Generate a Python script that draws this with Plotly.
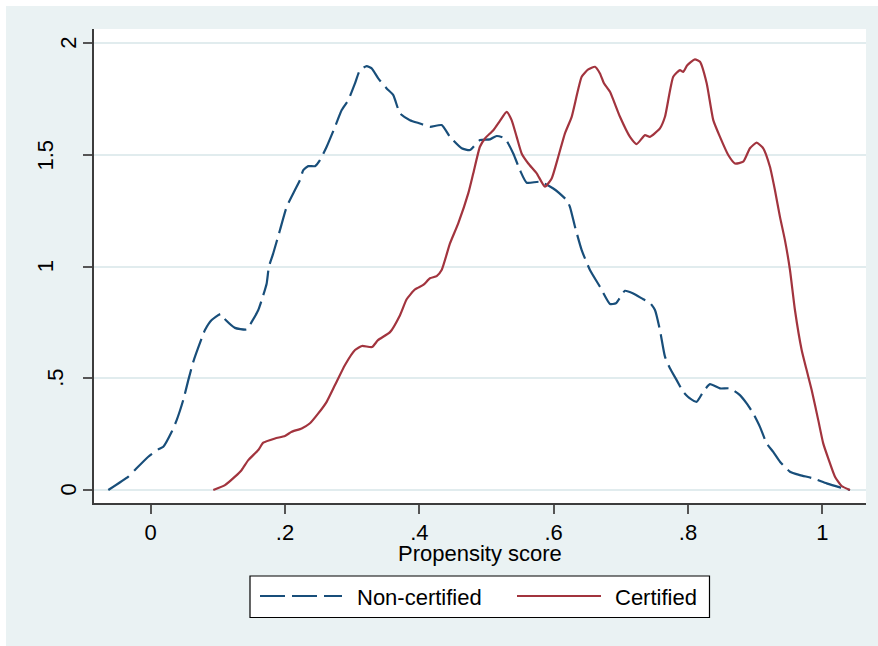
import plotly.graph_objects as go

# Kernel density estimates of the propensity score by certification status
noncert_x = [-0.0631, -0.0333, -0.0234, -0.0036, 0.0113, 0.0188, 0.0313, 0.0387, 0.0485, 0.0560,
             0.0634, 0.0759, 0.0808, 0.0908, 0.1042, 0.1117, 0.1255, 0.1429, 0.1504, 0.1602,
             0.1653, 0.1727, 0.1760, 0.1825, 0.1925, 0.2025, 0.2148, 0.2223, 0.2272, 0.2346,
             0.2446, 0.2520, 0.2620, 0.2744, 0.2844, 0.2942, 0.3042, 0.3116, 0.3216, 0.3290,
             0.3388, 0.3513, 0.3612, 0.3712, 0.3860, 0.4009, 0.4158, 0.4332, 0.4456, 0.4630,
             0.4754, 0.4903, 0.5051, 0.5151, 0.5275, 0.5398, 0.5498, 0.5598, 0.5796, 0.5994,
             0.6193, 0.6242, 0.6317, 0.6417, 0.6540, 0.6689, 0.6838, 0.6927, 0.7061, 0.7185,
             0.7334, 0.7433, 0.7508, 0.7582, 0.7657, 0.7731, 0.7831, 0.7929, 0.8029, 0.8129,
             0.8227, 0.8327, 0.8476, 0.8624, 0.8773, 0.8873, 0.8971, 0.9071, 0.9171, 0.9269,
             0.9369, 0.9518, 0.9667, 0.9865, 1.0064, 1.0262, 1.0411]
noncert_y = [0.000, 0.060, 0.090, 0.149, 0.182, 0.194, 0.261, 0.313, 0.403, 0.492,
             0.574, 0.679, 0.716, 0.761, 0.788, 0.761, 0.726, 0.719, 0.753, 0.806,
             0.850, 0.925, 1.000, 1.060, 1.164, 1.268, 1.343, 1.388, 1.432, 1.450,
             1.450, 1.477, 1.537, 1.626, 1.701, 1.746, 1.821, 1.880, 1.898, 1.888,
             1.843, 1.798, 1.768, 1.686, 1.656, 1.641, 1.626, 1.634, 1.581, 1.530,
             1.522, 1.567, 1.570, 1.585, 1.574, 1.507, 1.432, 1.376, 1.380, 1.350,
             1.298, 1.268, 1.179, 1.074, 0.985, 0.910, 0.833, 0.836, 0.892, 0.880,
             0.854, 0.838, 0.806, 0.716, 0.597, 0.545, 0.492, 0.440, 0.410, 0.395,
             0.440, 0.474, 0.455, 0.455, 0.425, 0.388, 0.343, 0.283, 0.209, 0.171,
             0.127, 0.082, 0.067, 0.052, 0.030, 0.012, 0.000]

cert_x = [0.0932, 0.1106, 0.1255, 0.1355, 0.1453, 0.1602, 0.1676, 0.1851, 0.1999, 0.2099,
          0.2248, 0.2372, 0.2495, 0.2620, 0.2744, 0.2893, 0.3042, 0.3146, 0.3295, 0.3384,
          0.3563, 0.3712, 0.3811, 0.3935, 0.4058, 0.4158, 0.4258, 0.4332, 0.4456, 0.4579,
          0.4728, 0.4803, 0.4902, 0.4977, 0.5101, 0.5200, 0.5300, 0.5374, 0.5449, 0.5523,
          0.5622, 0.5747, 0.5870, 0.5970, 0.6068, 0.6168, 0.6268, 0.6417, 0.6515, 0.6615,
          0.6689, 0.6749, 0.6838, 0.6987, 0.7136, 0.7235, 0.7359, 0.7433, 0.7582, 0.7657,
          0.7780, 0.7880, 0.7929, 0.7989, 0.8103, 0.8178, 0.8278, 0.8376, 0.8476, 0.8599,
          0.8699, 0.8822, 0.8922, 0.9022, 0.9120, 0.9220, 0.9294, 0.9369, 0.9443, 0.9518,
          0.9592, 0.9692, 0.9766, 0.9841, 0.9939, 1.0013, 1.0088, 1.0188, 1.0287, 1.0411]
cert_y = [0.000, 0.022, 0.060, 0.090, 0.134, 0.179, 0.212, 0.231, 0.242, 0.261,
          0.276, 0.299, 0.343, 0.395, 0.470, 0.560, 0.627, 0.645, 0.640, 0.671,
          0.707, 0.783, 0.854, 0.898, 0.918, 0.948, 0.958, 0.985, 1.104, 1.194,
          1.328, 1.418, 1.537, 1.574, 1.611, 1.653, 1.693, 1.656, 1.581, 1.507,
          1.462, 1.418, 1.358, 1.395, 1.492, 1.597, 1.671, 1.850, 1.883, 1.895,
          1.865, 1.821, 1.783, 1.671, 1.581, 1.549, 1.589, 1.581, 1.619, 1.671,
          1.850, 1.880, 1.872, 1.902, 1.928, 1.917, 1.821, 1.656, 1.581, 1.500,
          1.462, 1.470, 1.530, 1.555, 1.530, 1.447, 1.343, 1.223, 1.119, 0.985,
          0.806, 0.627, 0.537, 0.448, 0.313, 0.209, 0.142, 0.060, 0.018, 0.000]

x_ticks = [0, 0.2, 0.4, 0.6, 0.8, 1]
x_tick_labels = ["0", ".2", ".4", ".6", ".8", "1"]
y_ticks = [0, 0.5, 1, 1.5, 2]
y_tick_labels = ["0", ".5", "1", "1.5", "2"]
x_title = "Propensity score"

series_names = ["Non-certified", "Certified"]
NAVY = "#184e7a"
MAROON = "#a2343e"
BG = "#eaf2f3"
GRID = "#e1ecee"
FONT = "Liberation Sans, Arial, sans-serif"
DASH = "25px,7px"

fig = go.Figure()
fig.add_trace(go.Scatter(x=noncert_x, y=noncert_y, mode="lines", name=series_names[0],
                         line=dict(color=NAVY, width=2.2, dash=DASH, shape="spline", smoothing=0.5),
                         showlegend=False))
fig.add_trace(go.Scatter(x=cert_x, y=cert_y, mode="lines", name=series_names[1],
                         line=dict(color=MAROON, width=2.2, shape="spline", smoothing=0.5),
                         showlegend=False))

W, H = 878, 646
ML, MR, MT, MB = 94, 12, 29, 143
PW, PH = W - ML - MR, H - MT - MB


def px_x(p):
    return (p - ML) / PW


def px_y(p):
    return (H - MB - p) / PH


shapes = [
    # thin white strips framing the graph region on the top and left
    dict(type="rect", xref="paper", yref="paper", x0=px_x(0), x1=px_x(6), y0=px_y(H), y1=px_y(0),
         fillcolor="white", line=dict(width=0), layer="below"),
    dict(type="rect", xref="paper", yref="paper", x0=px_x(0), x1=px_x(W), y0=px_y(6), y1=px_y(0),
         fillcolor="white", line=dict(width=0), layer="below"),
    # legend box
    dict(type="rect", xref="paper", yref="paper", x0=px_x(250), x1=px_x(709.5), y0=px_y(617.5), y1=px_y(576),
         fillcolor="white", line=dict(color="black", width=1.2)),
    dict(type="line", xref="paper", yref="paper", x0=px_x(260), x1=px_x(342), y0=px_y(596), y1=px_y(596),
         line=dict(color=NAVY, width=2.2, dash=DASH)),
    dict(type="line", xref="paper", yref="paper", x0=px_x(517), x1=px_x(601), y0=px_y(596), y1=px_y(596),
         line=dict(color=MAROON, width=2.2)),
]

txt_font = dict(size=22, color="black", family=FONT)
annotations = [
    # x-axis title
    dict(text=x_title, xref="paper", yref="paper", x=0.5, y=px_y(553.5),
         xanchor="center", yanchor="middle", showarrow=False, font=txt_font),
    # legend entries
    dict(text=series_names[0], xref="paper", yref="paper", x=px_x(355), y=px_y(597),
         xanchor="left", yanchor="middle", showarrow=False, font=txt_font),
    dict(text=series_names[1], xref="paper", yref="paper", x=px_x(613), y=px_y(597),
         xanchor="left", yanchor="middle", showarrow=False, font=txt_font),
]

# vertical y-axis labels, each set at its own horizontal offset from the axis
y_label_centers = [68.5, 55.5, 45.5, 45.5, 68.5]
for val, lab, cx in zip(y_ticks, y_tick_labels, y_label_centers):
    annotations.append(dict(text=lab, xref="paper", yref="y", x=px_x(cx), y=val,
                            xanchor="center", yanchor="middle", textangle=-90,
                            showarrow=False, font=txt_font))

axis_common = dict(
    showline=True, linecolor="#3c3c3c", linewidth=1.6,
    ticks="outside", ticklen=9, tickwidth=1.6, tickcolor="#555555",
    zeroline=False,
    tickfont=txt_font,
)

fig.update_layout(
    width=W, height=H,
    margin=dict(l=ML, r=MR, t=MT, b=MB, pad=0),
    paper_bgcolor=BG, plot_bgcolor="white",
    font=dict(family=FONT, color="black"),
    xaxis=dict(range=[-0.0844, 1.065], tickvals=x_ticks, ticktext=x_tick_labels,
               showgrid=False, **axis_common),
    yaxis=dict(range=[-0.058, 2.064], tickvals=y_ticks, showticklabels=False,
               showgrid=True, gridcolor=GRID, gridwidth=1.6,
               **axis_common),
    shapes=shapes,
    annotations=annotations,
    showlegend=False,
)

fig.write_html("out.html")
